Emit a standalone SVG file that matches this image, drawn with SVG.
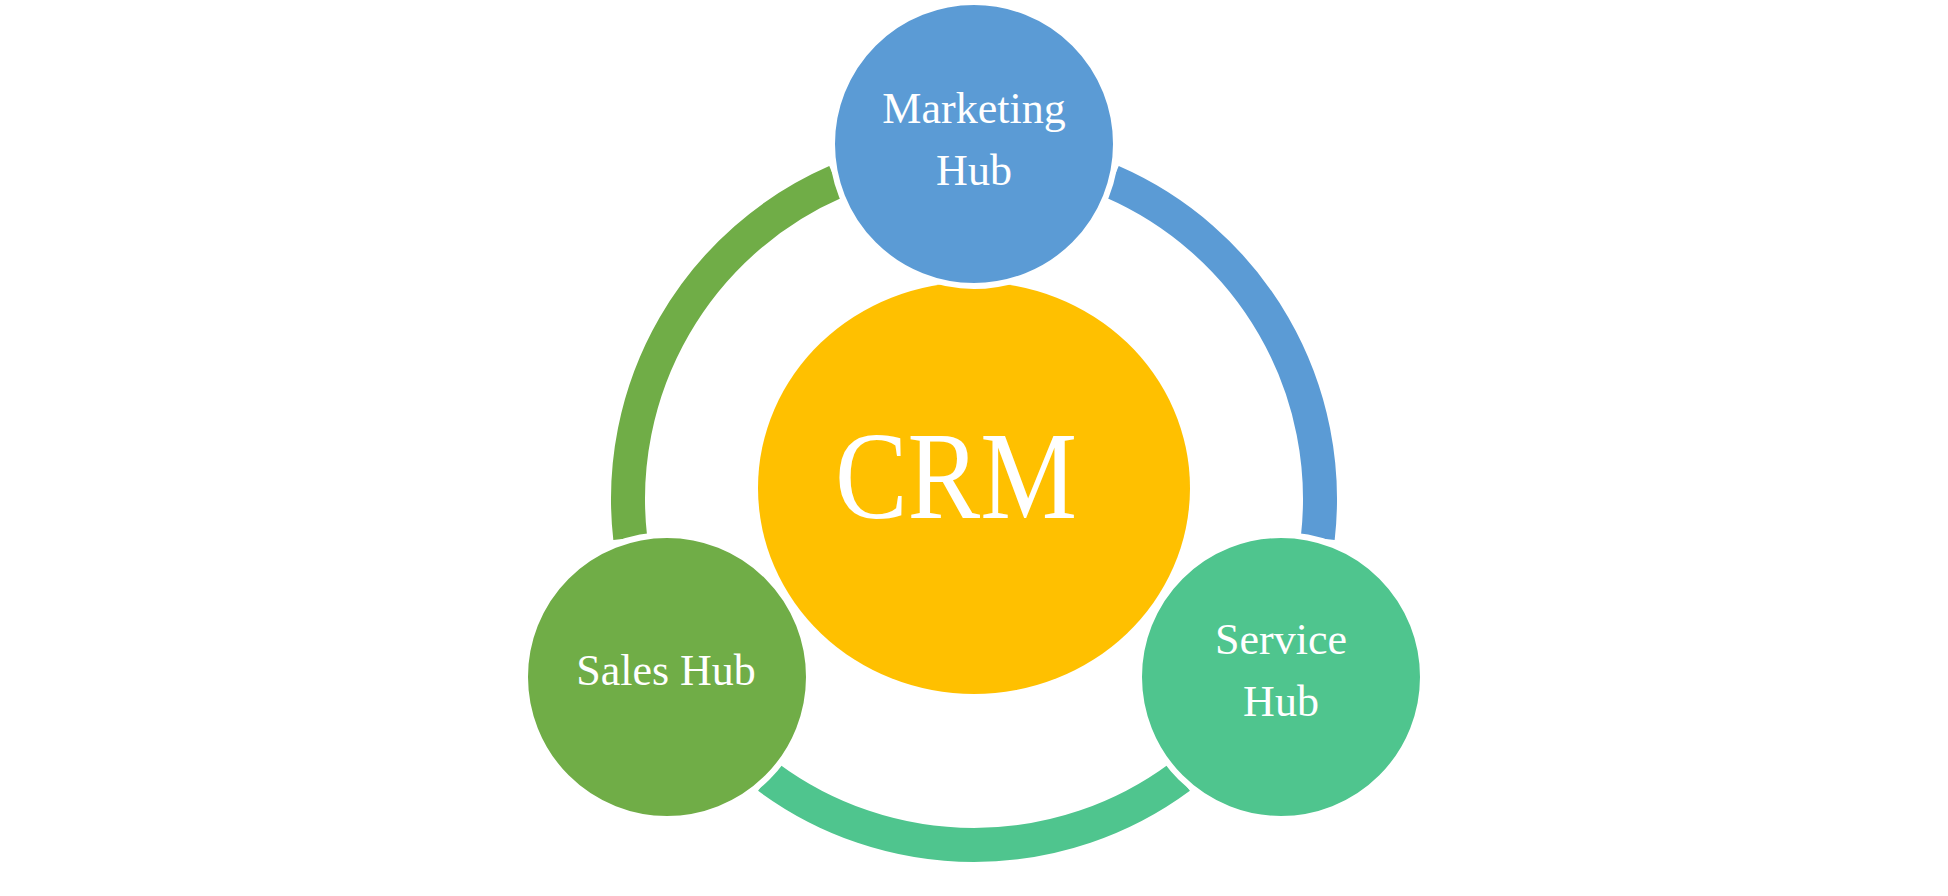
<svg xmlns="http://www.w3.org/2000/svg" width="1948" height="896" viewBox="0 0 1948 896">
<style>
.arc{fill:none;stroke-width:34;stroke-linecap:butt}
.hub{stroke:#FFFFFF;stroke-width:6}
.lbl{font-family:"Liberation Serif","DejaVu Serif",serif;font-size:44px;fill:#FFFFFF;text-anchor:middle}
.big{font-family:"Liberation Serif","DejaVu Serif",serif;font-size:124px;fill:#FFFFFF;text-anchor:middle}
</style>
<rect x="0" y="0" width="1948" height="896" fill="#FFFFFF"/>
<g id="connectors">
<path class="arc" stroke="#70AD47" d="M 630.23 538.17 A 346 346 0 0 1 836.03 181.70"/>
<path class="arc" stroke="#5B9BD5" d="M 1111.97 181.70 A 346 346 0 0 1 1317.77 538.17"/>
<path class="arc" stroke="#4FC58E" d="M 1179.81 777.14 A 346 346 0 0 1 768.19 777.14"/>
</g>
<g id="crm">
<ellipse cx="974" cy="488" rx="216" ry="206" fill="#FFC000"/>
<text class="big" x="956" y="518" textLength="242" lengthAdjust="spacingAndGlyphs">CRM</text>
</g>
<g id="marketing-hub">
<circle class="hub" cx="974" cy="144" r="142" fill="#5B9BD5"/>
<text class="lbl" x="974" y="123">Marketing</text>
<text class="lbl" x="974" y="185">Hub</text>
</g>
<g id="sales-hub">
<circle class="hub" cx="667" cy="677" r="142" fill="#70AD47"/>
<text class="lbl" x="666" y="685">Sales Hub</text>
</g>
<g id="service-hub">
<circle class="hub" cx="1281" cy="677" r="142" fill="#4FC58E"/>
<text class="lbl" x="1281" y="654">Service</text>
<text class="lbl" x="1281" y="716">Hub</text>
</g>
</svg>
